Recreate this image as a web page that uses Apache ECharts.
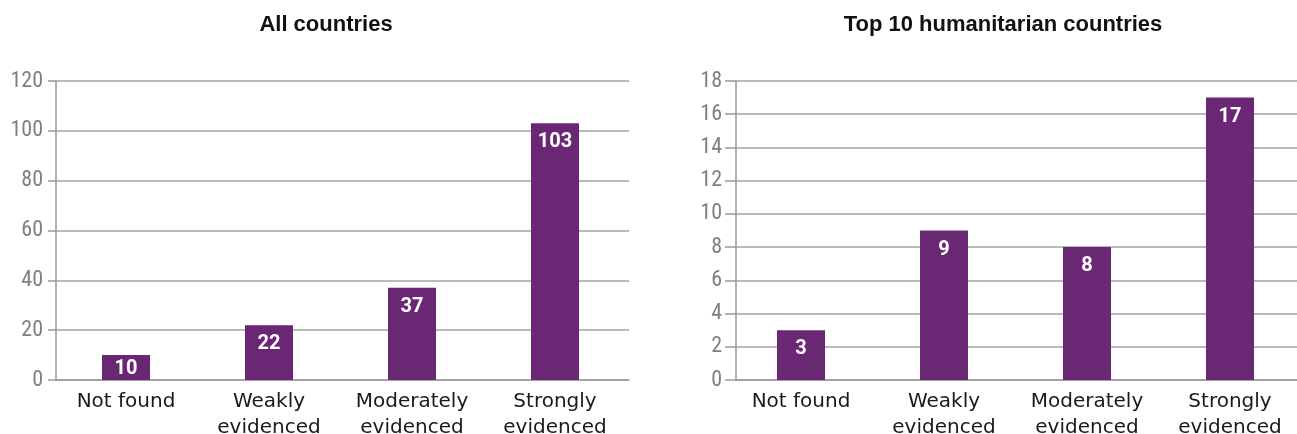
<!DOCTYPE html>
<html>
<head>
<meta charset="utf-8">
<title>Evidence of practice by country group</title>
<script src="https://cdn.jsdelivr.net/npm/echarts@6/dist/echarts.min.js"></script>
<style>
  html, body { margin: 0; padding: 0; background: #ffffff; }
  #chart { width: 1297px; height: 434px; }
</style>
</head>
<body>
<div id="chart"></div>
<script>
// Evidence categories shared by both panels
const categories = ['Not found', 'Weakly\nevidenced', 'Moderately\nevidenced', 'Strongly\nevidenced'];

// Number of countries per category
const allCountries = [10, 22, 37, 103];
const top10Humanitarian = [3, 9, 8, 17];

// Value axis ranges (min, max, step)
const allTicks = { min: 0, max: 120, interval: 20 };
const top10Ticks = { min: 0, max: 18, interval: 2 };

const panelTitles = ['All countries', 'Top 10 humanitarian countries'];

const BAR_COLOR = '#6a2874';
const GRID_COLOR = '#a3a3a3';
const AXIS_COLOR = '#9a9a9a';
const TICK_FONT = "'Liberation Sans Narrow', 'Roboto Condensed', 'DejaVu Sans Condensed', sans-serif";
const PLOT_TOP = 81;
const PLOT_HEIGHT = 299;

// Each panel: one grid for the frame (gridlines, value axis), one for the bars
const panels = [
  { values: allCountries, ticks: allTicks, axisLeft: 56, axisWidth: 573, barLeft: 54.5, tickLen: 8, labelMargin: 13, titleX: 326 },
  { values: top10Humanitarian, ticks: top10Ticks, axisLeft: 736, axisWidth: 561, barLeft: 729.5, tickLen: 11, labelMargin: 14, titleX: 1003 }
];

const grid = [], xAxis = [], yAxis = [], series = [], graphic = [];

panels.forEach((p, i) => {
  const frameIdx = grid.length;
  grid.push({ left: p.axisLeft, top: PLOT_TOP, width: p.axisWidth, height: PLOT_HEIGHT, containLabel: false, outerBoundsMode: 'none' });
  const barIdx = grid.length;
  grid.push({ left: p.barLeft, top: PLOT_TOP, width: 572, height: PLOT_HEIGHT, containLabel: false, outerBoundsMode: 'none' });

  // Frame axes
  xAxis.push({
    type: 'category', gridIndex: frameIdx, data: categories,
    axisLine: { show: true, lineStyle: { color: AXIS_COLOR, width: 1.5 } },
    axisTick: { show: false }, axisLabel: { show: false }, splitLine: { show: false }
  });
  yAxis.push({
    type: 'value', gridIndex: frameIdx,
    min: p.ticks.min, max: p.ticks.max, interval: p.ticks.interval,
    axisLine: { show: true, lineStyle: { color: AXIS_COLOR, width: 1.5 } },
    axisTick: { show: true, inside: false, length: p.tickLen, lineStyle: { color: AXIS_COLOR, width: 1.5 } },
    axisLabel: { show: true, margin: p.labelMargin, color: '#7f7f7f', fontSize: 22, fontFamily: TICK_FONT },
    splitLine: { show: true, lineStyle: { color: GRID_COLOR, width: 1.5 } }
  });

  // Bar axes
  xAxis.push({
    type: 'category', gridIndex: barIdx, data: categories,
    axisLine: { show: false }, axisTick: { show: false }, splitLine: { show: false },
    axisLabel: {
      show: true, interval: 0, margin: 9, color: '#1a1a1a',
      fontSize: 20, lineHeight: 26, fontFamily: "'DejaVu Sans', sans-serif", align: 'center'
    }
  });
  yAxis.push({
    type: 'value', gridIndex: barIdx, show: false,
    min: p.ticks.min, max: p.ticks.max, interval: p.ticks.interval,
    splitLine: { show: false }
  });

  const span = p.ticks.max - p.ticks.min;
  series.push({
    type: 'bar',
    xAxisIndex: barIdx, yAxisIndex: barIdx,
    barWidth: 48,
    itemStyle: { color: BAR_COLOR },
    label: {
      show: true, position: 'insideTop', distance: 9,
      color: '#ffffff', fontSize: 20, fontWeight: 'bold',
      fontFamily: "Roboto, 'Liberation Sans', sans-serif"
    },
    // short bars get their label tucked a little closer to the top edge
    data: p.values.map(v => (v / span) * PLOT_HEIGHT < 30
      ? { value: v, label: { distance: 4 } }
      : v)
  });

  graphic.push({
    type: 'text', x: p.titleX, y: 25,
    style: {
      text: panelTitles[i], align: 'center', verticalAlign: 'middle',
      fill: '#111111', font: "bold 22px 'Liberation Sans', Arial, sans-serif"
    }
  });
});

const chart = echarts.init(document.getElementById('chart'), null, { renderer: 'canvas' });
chart.setOption({
  animation: false,
  backgroundColor: '#ffffff',
  grid, xAxis, yAxis, series, graphic
});
</script>
</body>
</html>
